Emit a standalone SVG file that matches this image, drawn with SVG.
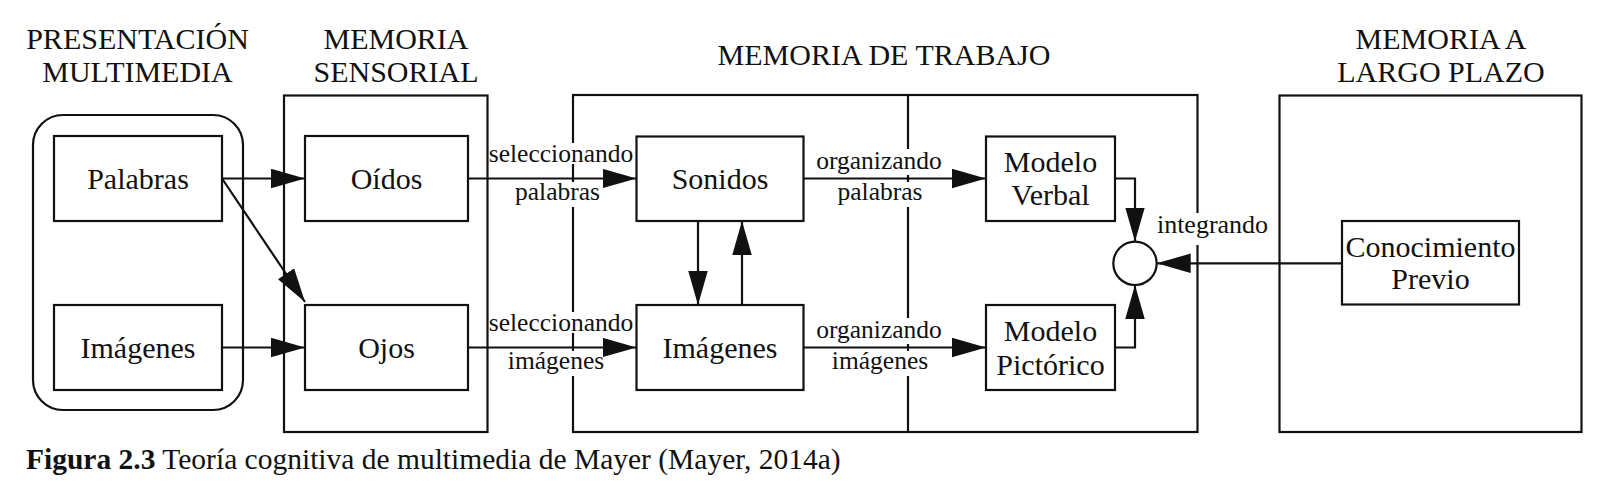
<svg xmlns="http://www.w3.org/2000/svg" width="1600" height="484" viewBox="0 0 1600 484">
<style>
  .bg { fill: #ffffff; }
  .box { fill: #ffffff; stroke: #111111; stroke-width: 2.2; }
  .frame { fill: none; stroke: #111111; stroke-width: 2.2; }
  .line { fill: none; stroke: #111111; stroke-width: 2.2; }
  .title { font-family: "Liberation Serif", "Times New Roman", serif; font-size: 30px; fill: #111111; text-anchor: middle; }
  .label { font-family: "Liberation Serif", "Times New Roman", serif; font-size: 30px; fill: #111111; text-anchor: middle; }
  .edge { font-family: "Liberation Serif", "Times New Roman", serif; font-size: 25.5px; fill: #111111; text-anchor: middle; }
  .mask { fill: #ffffff; stroke: none; }
  .caption { font-family: "Liberation Serif", "Times New Roman", serif; font-size: 29.5px; fill: #111111; }
</style>
<defs>
  <marker id="arrow" markerUnits="userSpaceOnUse" markerWidth="35" markerHeight="20" refX="34" refY="9.75" orient="auto">
    <path d="M0,0 L34,9.75 L0,19.5 z" fill="#111111"/>
  </marker>
</defs>
<rect class="bg" x="0" y="0" width="1600" height="484"/>

<!-- containers -->
<g id="presentacion-multimedia">
  <rect class="frame" x="33" y="115" width="210" height="295" rx="30" ry="30"/>
  <text class="title" x="137.5" y="48.5">PRESENTACIÓN</text>
  <text class="title" x="137.5" y="81.5">MULTIMEDIA</text>
</g>
<g id="memoria-sensorial">
  <rect class="frame" x="284" y="95.5" width="203.5" height="336.5"/>
  <text class="title" x="396" y="48.5">MEMORIA</text>
  <text class="title" x="396" y="81.5">SENSORIAL</text>
</g>
<g id="memoria-de-trabajo">
  <rect class="frame" x="573" y="95" width="624.5" height="337"/>
  <line class="line" x1="908" y1="95" x2="908" y2="432"/>
  <text class="title" x="884" y="64.5">MEMORIA DE TRABAJO</text>
</g>
<g id="memoria-largo-plazo">
  <rect class="frame" x="1279.5" y="95.5" width="302" height="336.5"/>
  <text class="title" x="1441" y="48.5">MEMORIA A</text>
  <text class="title" x="1441" y="81.5">LARGO PLAZO</text>
</g>

<!-- nodes -->
<g id="palabras">
  <rect class="box" x="54" y="136" width="168" height="85"/>
  <text class="label" x="138" y="189">Palabras</text>
</g>
<g id="imagenes-presentacion">
  <rect class="box" x="54" y="305" width="168" height="85"/>
  <text class="label" x="138" y="358">Imágenes</text>
</g>
<g id="oidos">
  <rect class="box" x="305" y="136" width="163" height="85"/>
  <text class="label" x="386.5" y="189">Oídos</text>
</g>
<g id="ojos">
  <rect class="box" x="305" y="305" width="163" height="85"/>
  <text class="label" x="386.5" y="358">Ojos</text>
</g>
<g id="sonidos">
  <rect class="box" x="636.5" y="136.5" width="167" height="84.5"/>
  <text class="label" x="720" y="189">Sonidos</text>
</g>
<g id="imagenes-trabajo">
  <rect class="box" x="636.5" y="305" width="167" height="85"/>
  <text class="label" x="720" y="358">Imágenes</text>
</g>
<g id="modelo-verbal">
  <rect class="box" x="986" y="136.5" width="129" height="84.5"/>
  <text class="label" x="1050.5" y="172">Modelo</text>
  <text class="label" x="1050.5" y="205">Verbal</text>
</g>
<g id="modelo-pictorico">
  <rect class="box" x="986" y="305" width="129" height="85"/>
  <text class="label" x="1050.5" y="341">Modelo</text>
  <text class="label" x="1050.5" y="374.5">Pictórico</text>
</g>
<g id="integracion">
  <circle class="box" cx="1135" cy="263.3" r="21.7"/>
</g>
<g id="conocimiento-previo">
  <rect class="box" x="1342" y="221" width="177" height="83.5"/>
  <text class="label" x="1430.5" y="256.7">Conocimiento</text>
  <text class="label" x="1430.5" y="289">Previo</text>
</g>

<!-- edge labels -->
<g id="edge-labels">
  <rect class="mask" x="489" y="143" width="145" height="21"/>
  <rect class="mask" x="513" y="182" width="90" height="25"/>
  <rect class="mask" x="814" y="149" width="131" height="26"/>
  <rect class="mask" x="835" y="182" width="90" height="25"/>
  <rect class="mask" x="489" y="312" width="145" height="21"/>
  <rect class="mask" x="507" y="351" width="98" height="25"/>
  <rect class="mask" x="814" y="318" width="131" height="26"/>
  <rect class="mask" x="831" y="351" width="98" height="25"/>
  <rect class="mask" x="1156" y="213" width="113" height="32"/>
  <text class="edge" x="561" y="162">seleccionando</text>
  <text class="edge" x="557.5" y="200">palabras</text>
  <text class="edge" x="879" y="168.5">organizando</text>
  <text class="edge" x="880" y="200">palabras</text>
  <text class="edge" x="561" y="331">seleccionando</text>
  <text class="edge" x="556" y="369">imágenes</text>
  <text class="edge" x="879" y="337.5">organizando</text>
  <text class="edge" x="880" y="369">imágenes</text>
  <text class="edge" x="1212.5" y="233" style="font-size:26px">integrando</text>
</g>

<!-- connectors -->
<g id="connectors">
  <path class="line" d="M222,178.5 H305" marker-end="url(#arrow)"/>
  <path class="line" d="M222,178.5 L305,302" marker-end="url(#arrow)"/>
  <path class="line" d="M222,347.5 H305" marker-end="url(#arrow)"/>
  <path class="line" d="M468,178.5 H636.5" marker-end="url(#arrow)"/>
  <path class="line" d="M468,347.5 H636.5" marker-end="url(#arrow)"/>
  <path class="line" d="M698,221 V305" marker-end="url(#arrow)"/>
  <path class="line" d="M742,305 V221" marker-end="url(#arrow)"/>
  <path class="line" d="M803.5,178.5 H986" marker-end="url(#arrow)"/>
  <path class="line" d="M803.5,347.5 H986" marker-end="url(#arrow)"/>
  <path class="line" d="M1115,178.5 H1135 V241.6" marker-end="url(#arrow)"/>
  <path class="line" d="M1115,347.5 H1135 V285" marker-end="url(#arrow)"/>
  <path class="line" d="M1342,263.3 H1156.7" marker-end="url(#arrow)"/>
</g>

<!-- caption -->
<text class="caption" x="26" y="469"><tspan font-weight="bold">Figura 2.3</tspan> Teoría cognitiva de multimedia de Mayer (Mayer, 2014a)</text>
</svg>
